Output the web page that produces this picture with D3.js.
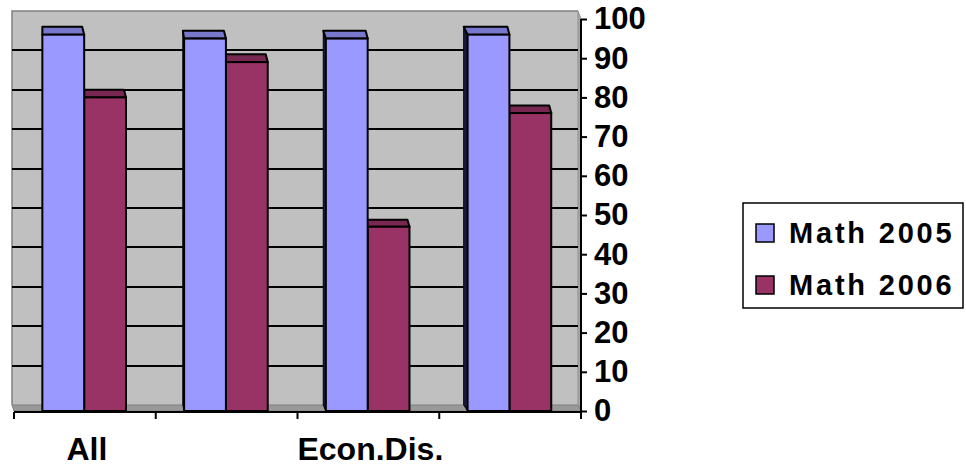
<!DOCTYPE html>
<html>
<head>
<meta charset="utf-8">
<script src="https://cdn.jsdelivr.net/npm/d3@7/dist/d3.min.js"></script>
<style>
  html, body { margin: 0; padding: 0; background: #ffffff; }
  svg { display: block; }
  text { font-family: "Liberation Sans", Arial, sans-serif; font-weight: bold; fill: #000; }
</style>
</head>
<body>
<svg id="chart" width="966" height="468"></svg>
<script>
// Proficiency rates by group
const categories = ["All", "Group 2", "Econ.Dis.", "Group 4"];
const tickLabels = ["All", "", "Econ.Dis.", ""];
const seriesNames = ["Math 2005", "Math 2006"];
const math2005 = [96, 95, 95, 96];
const math2006 = [80, 89, 47, 76];
const yTicks = [0, 10, 20, 30, 40, 50, 60, 70, 80, 90, 100];

const colors = { "Math 2005": "#9999FF", "Math 2006": "#993366" };
const topColors = { "Math 2005": "#7777CC", "Math 2006": "#772750" };
const sideColors = { "Math 2005": "#1a1a40", "Math 2006": "#2a0a18" };

const svg = d3.select("#chart");

// front plane (bars, axes) and back wall (gridlines)
const yFront = d3.scaleLinear().domain([0, 100]).range([411, 19]);
const yBack = d3.scaleLinear().domain([0, 100]).range([405, 11]);
const x0 = d3.scaleBand().domain(categories).range([14, 581]);
const bw = x0.bandwidth();
const x1 = d3.scaleBand().domain(seriesNames).range([bw * 0.2, bw * 0.79]);

const wallL = 12, wallR = 578;

// back wall
svg.append("rect")
  .attr("x", wallL).attr("y", yBack(100))
  .attr("width", wallR - wallL).attr("height", yBack(0) - yBack(100))
  .attr("fill", "#C0C0C0");
svg.append("path")
  .attr("d", `M${wallL},${yBack(0)} V${yBack(100)} H${wallR}`)
  .attr("fill", "none").attr("stroke", "#808080").attr("stroke-width", 1.5);

// right side wall
svg.append("path")
  .attr("d", `M${wallR},${yBack(100)} L581,${yFront(100)} L581,${yFront(0)} L${wallR},${yBack(0)} Z`)
  .attr("fill", "#A8A8A8").attr("stroke", "#909090").attr("stroke-width", 1);

// floor
svg.append("path")
  .attr("d", `M${wallL},${yBack(0)} L${wallR},${yBack(0)} L581,${yFront(0)} L14,${yFront(0)} Z`)
  .attr("fill", "#999999").attr("stroke", "#808080").attr("stroke-width", 1);

// gridlines on the back wall
svg.append("g").selectAll("line")
  .data(yTicks.filter(v => v > 0 && v < 100))
  .join("line")
  .attr("x1", wallL).attr("x2", wallR)
  .attr("y1", d => Math.round(yBack(d))).attr("y2", d => Math.round(yBack(d)))
  .attr("stroke", "#000").attr("stroke-width", 2);

// bars
const rows = categories.map((c, i) => ({
  cat: c, idx: i,
  vals: [
    { key: "Math 2005", value: math2005[i] },
    { key: "Math 2006", value: math2006[i] }
  ]
}));

const groups = svg.append("g").selectAll("g")
  .data(rows)
  .join("g")
  .attr("transform", d => `translate(${x0(d.cat)},0)`);

groups.each(function (row) {
  const g = d3.select(this);
  const side = row.idx * 1.3;
  // draw the 2006 bar first so the 2005 bar covers its side face
  row.vals.slice().reverse().forEach(v => {
    const xa = x1(v.key), xb = xa + x1.bandwidth();
    const yf = yFront(v.value), yb = yBack(v.value), y0 = yFront(0);
    if (side > 0) {
      g.append("path")
        .attr("d", `M${xa},${yf} L${xa - side},${yb} L${xa - side},${yBack(0)} L${xa},${y0} Z`)
        .attr("fill", sideColors[v.key]).attr("stroke", "#000").attr("stroke-width", 1);
    }
    g.append("path")
      .attr("d", `M${xa},${yf} L${xb},${yf} L${xb - 2},${yb} L${xa - side},${yb} Z`)
      .attr("fill", topColors[v.key]).attr("stroke", "#000").attr("stroke-width", 2)
      .attr("stroke-linejoin", "round");
    g.append("rect")
      .attr("x", xa).attr("y", yf)
      .attr("width", xb - xa).attr("height", y0 - yf)
      .attr("fill", colors[v.key]).attr("stroke", "#000").attr("stroke-width", 2);
  });
});

// category axis
const xAxisG = svg.append("g");
xAxisG.append("line")
  .attr("x1", 14).attr("x2", 581).attr("y1", 412).attr("y2", 412)
  .attr("stroke", "#000").attr("stroke-width", 2);
const edges = categories.map(c => x0(c)).concat([x0.range()[1]]);
xAxisG.selectAll("line.tick")
  .data(edges)
  .join("line")
  .attr("class", "tick")
  .attr("x1", d => d).attr("x2", d => d)
  .attr("y1", 412).attr("y2", 419)
  .attr("stroke", "#000").attr("stroke-width", 2);
xAxisG.selectAll("text")
  .data(categories)
  .join("text")
  .attr("x", d => x0(d) + bw / 2 + 2)
  .attr("y", 460)
  .attr("text-anchor", "middle")
  .style("font-size", "32px")
  .text((d, i) => tickLabels[i]);

// value axis on the right
const yAxis = d3.axisRight(yFront).tickValues(yTicks).tickSize(6).tickPadding(7);
const yAxisG = svg.append("g").attr("transform", "translate(581,0)").call(yAxis);
yAxisG.select(".domain").attr("stroke", "#000").attr("stroke-width", 2)
  .attr("d", `M0,${yFront(100)} V${yFront(0) + 7}`);
yAxisG.selectAll(".tick line").attr("stroke", "#000").attr("stroke-width", 2);
yAxisG.selectAll(".tick text")
  .attr("fill", "#000")
  .style("font-family", "'Liberation Sans', Arial, sans-serif")
  .style("font-weight", "bold")
  .style("font-size", "31px");

// legend
const legend = svg.append("g");
legend.append("rect")
  .attr("x", 743).attr("y", 203).attr("width", 220).attr("height", 105)
  .attr("fill", "#fff").attr("stroke", "#000").attr("stroke-width", 1.5);
const items = legend.selectAll("g.item")
  .data(seriesNames)
  .join("g")
  .attr("class", "item")
  .attr("transform", (d, i) => `translate(0,${i * 52})`);
items.append("rect")
  .attr("x", 756).attr("y", 224).attr("width", 18).attr("height", 18)
  .attr("fill", d => colors[d]).attr("stroke", "#000").attr("stroke-width", 1.5);
items.append("text")
  .attr("x", 789).attr("y", 243)
  .style("font-size", "29px")
  .style("letter-spacing", "2.8px")
  .text(d => d);
</script>
</body>
</html>
